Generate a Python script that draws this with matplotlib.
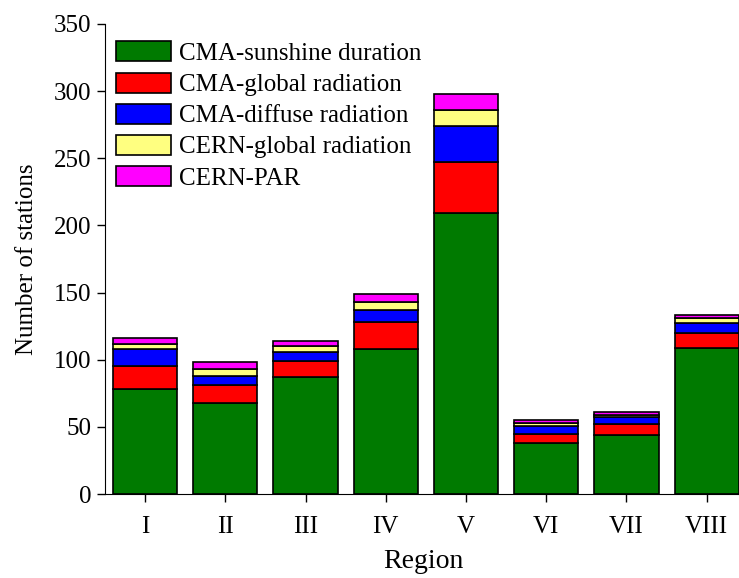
import numpy as np
import matplotlib.pyplot as plt

regions = ["I", "II", "III", "IV", "V", "VI", "VII", "VIII"]
series_names = ["CMA-sunshine duration", "CMA-global radiation", "CMA-diffuse radiation",
                "CERN-global radiation", "CERN-PAR"]
cma_sunshine = [78, 68, 87, 108, 209, 38, 44, 109]
cma_global = [17, 13, 12, 20, 38, 7, 8, 11]
cma_diffuse = [13, 7, 7, 9, 27, 6, 5, 7]
cern_global = [4, 5, 4, 6, 12, 2, 2, 4]
cern_par = [4, 5, 4, 6, 12, 2, 2, 2]
colors = ["#007a00", "#ff0000", "#0000ff", "#ffff80", "#ff00ff"]

plt.rcParams['font.family'] = ['Liberation Serif', 'DejaVu Serif']

fig = plt.figure(figsize=(7.39, 5.78), dpi=100)
ax = fig.add_axes([0.142, 0.1453, 0.861, 0.8132])

x = np.arange(1, len(regions) + 1)
bottom = np.zeros(len(regions))
for name, vals, c in zip(series_names,
                         [cma_sunshine, cma_global, cma_diffuse, cern_global, cern_par],
                         colors):
    ax.bar(x, vals, width=0.8, bottom=bottom, color=c, edgecolor='black',
           linewidth=1.2, label=name)
    bottom += np.array(vals)

ax.set_xlim(0.5, 8.43)
ax.set_ylim(0, 350)
ax.set_yticks(range(0, 351, 50))
ax.set_xticks(x)
ax.set_xticklabels(regions)
ax.tick_params(direction='out', length=6, width=1, labelsize=18)
ax.tick_params(axis='x', pad=10)
ax.spines['top'].set_visible(False)
ax.spines['right'].set_visible(False)

ax.set_ylabel("Number of stations", fontsize=18, labelpad=12)
ax.set_xlabel("Region", fontsize=20, labelpad=8)

ax.legend(loc='upper left', frameon=False, fontsize=18, handlelength=2.2,
          handleheight=0.85, labelspacing=0.3, handletextpad=0.3,
          borderaxespad=0.3, bbox_to_anchor=(-0.01, 1.0))

plt.savefig("out.png", dpi=100, facecolor='white')
plt.close()
